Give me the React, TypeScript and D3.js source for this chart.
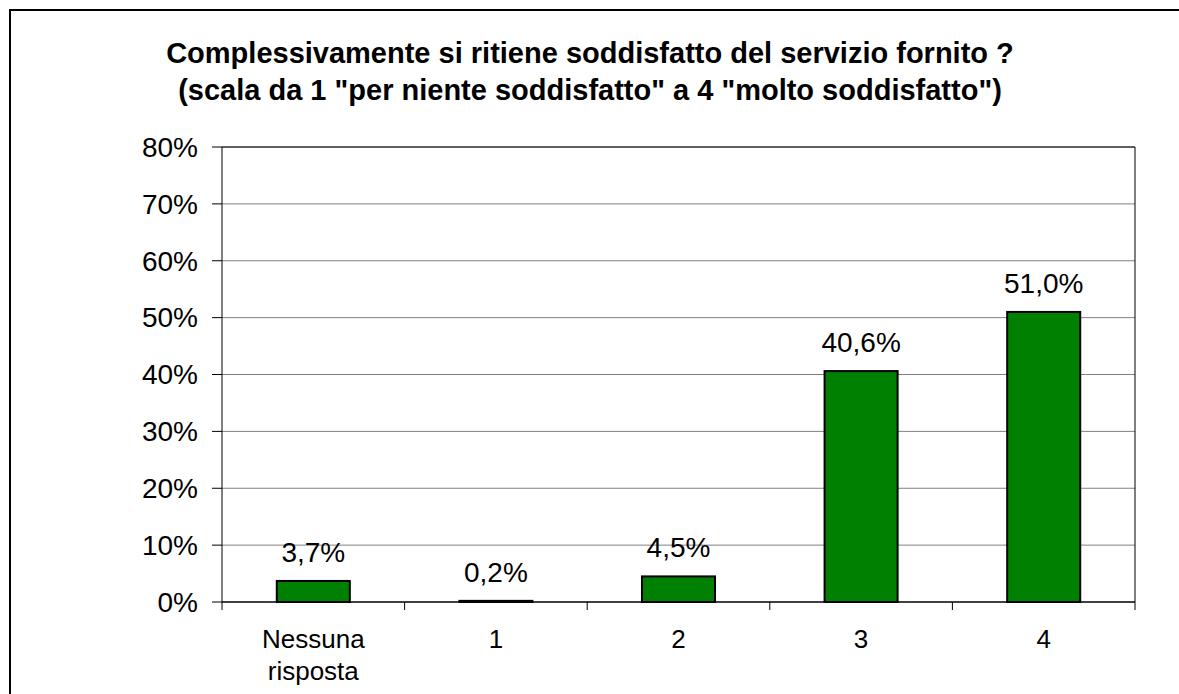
import * as d3 from "d3"

const categories = ["Nessuna risposta", "1", "2", "3", "4"]
const values = [3.7, 0.2, 4.5, 40.6, 51.0]
const yTicks = [0, 10, 20, 30, 40, 50, 60, 70, 80]
const titleLines = [
  "Complessivamente si ritiene soddisfatto del servizio fornito ?",
  '(scala da 1 "per niente soddisfatto" a 4 "molto soddisfatto")',
]

const W = 1179
const H = 694
const margin = { top: 147, right: 44, bottom: 92, left: 222 }
const font = "'Liberation Sans', Arial, sans-serif"

export default function App() {
  const innerW = W - margin.left - margin.right
  const innerH = H - margin.top - margin.bottom

  const x = d3.scaleBand<string>().domain(categories).range([0, innerW]).paddingInner(0.6).paddingOuter(0.3)
  const xEdges = d3.scaleLinear().domain([0, categories.length]).range([0, innerW])
  const y = d3.scaleLinear().domain([0, 80]).range([innerH, 0])

  const fmt = (v: number) => v.toFixed(1).replace(".", ",") + "%"

  return (
    <div style={{ position: "fixed", left: 0, top: 0, width: W, height: H, overflow: "hidden", background: "#fff" }}>
      <svg width={W} height={H} style={{ display: "block" }} fontFamily={font}>
        <rect x={0} y={0} width={W} height={H} fill="#fff" />
        {/* outer chart frame, cut off at right and bottom */}
        <line x1={10} x2={W} y1={10} y2={10} stroke="#000" strokeWidth={2} />
        <line x1={10} x2={10} y1={9} y2={H} stroke="#000" strokeWidth={2} />

        {titleLines.map((t, i) => (
          <text key={i} x={590} y={63 + i * 37} textAnchor="middle" fontWeight="bold" fontSize={29} fill="#000">
            {t}
          </text>
        ))}

        <g transform={`translate(${margin.left},${margin.top})`}>
          {yTicks.map((t) => (
            <g key={t}>
              {t > 0 && <line x1={0} x2={innerW} y1={y(t)} y2={y(t)} stroke="#808080" strokeWidth={1} />}
              <line x1={-10} x2={0} y1={y(t)} y2={y(t)} stroke="#000" />
              <text x={-24} y={y(t)} dy="0.35em" textAnchor="end" fontSize={28} fill="#000">
                {t}%
              </text>
            </g>
          ))}

          <line x1={innerW} x2={innerW} y1={0} y2={innerH} stroke="#000" />
          <line x1={0} x2={innerW} y1={0} y2={0} stroke="#000" />

          {values.map((v, i) => {
            const c = categories[i]
            const bx = x(c) ?? 0
            return (
              <g key={c}>
                <rect
                  x={bx}
                  y={y(v)}
                  width={x.bandwidth()}
                  height={innerH - y(v)}
                  fill="#008000"
                  stroke="#000"
                  strokeWidth={2}
                />
                <text x={bx + x.bandwidth() / 2} y={y(v) - 19} textAnchor="middle" fontSize={28} fill="#000">
                  {fmt(v)}
                </text>
              </g>
            )
          })}

          <line x1={0} x2={0} y1={0} y2={innerH} stroke="#000" />
          <line x1={0} x2={innerW} y1={innerH} y2={innerH} stroke="#000" strokeWidth={1.5} />
          {d3.range(categories.length + 1).map((k) => (
            <line key={k} x1={xEdges(k)} x2={xEdges(k)} y1={innerH} y2={innerH + 8} stroke="#000" />
          ))}

          {categories.map((c) => {
            const words = c.split(" ")
            const cx = (x(c) ?? 0) + x.bandwidth() / 2
            return (
              <text key={c} x={cx} y={innerH + 46} textAnchor="middle" fontSize={26} fill="#000">
                {words.map((w, j) => (
                  <tspan key={j} x={cx} dy={j === 0 ? 0 : 32}>
                    {w}
                  </tspan>
                ))}
              </text>
            )
          })}
        </g>
      </svg>
    </div>
  )
}
